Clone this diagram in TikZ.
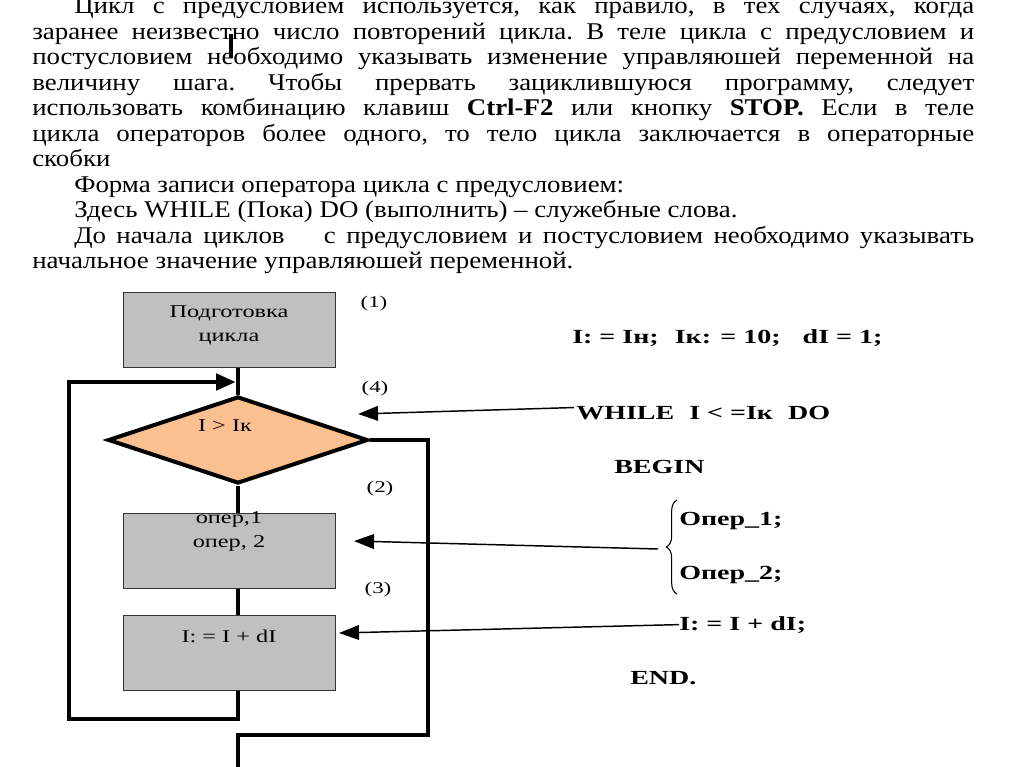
\documentclass[tikz,border=0pt]{standalone}
\usepackage{fontspec}
\setmainfont{Liberation Serif}
\newfontfamily\bodyf[FakeStretch=1.12]{Liberation Serif}
\newfontfamily\flowf[FakeStretch=1.35]{Liberation Serif}
\newfontfamily\widef[FakeStretch=1.4]{Liberation Serif}
\usetikzlibrary{arrows.meta,shapes.geometric,decorations.pathreplacing}
\definecolor{boxgray}{RGB}{192,192,192}
\definecolor{peach}{RGB}{250,192,143}
\begin{document}
\begin{tikzpicture}[x=0.75pt,y=-0.75pt,
  procbox/.style={draw=black!80, line width=0.9pt, fill=boxgray, minimum width=159pt, minimum height=56.25pt, inner sep=0pt, anchor=north west},
  decbox/.style={shape=diamond, draw=black, line width=3pt, fill=peach, minimum width=195pt, minimum height=65.25pt, aspect=3, inner sep=0pt},
  flowtext/.style={font=\flowf\fontsize{13.5pt}{18pt}\selectfont, align=center, inner sep=0pt},
  numlabel/.style={font=\widef\fontsize{12.3pt}{14pt}\selectfont, inner sep=0pt},
  code/.style={font=\widef\fontsize{15pt}{17pt}\selectfont\bfseries, inner sep=0pt, anchor=base west},
  flow/.style={line width=3.6pt, line join=miter},
  ptr/.style={line width=1.1pt, -{Triangle[length=15pt,width=11pt]}},
]
\useasboundingbox (0,0) rectangle (1024,767);

% body text
\node[anchor=base west, inner sep=0pt, font=\bodyf\fontsize{18pt}{19.1pt}\selectfont] (para) at (32,14) {\parbox[t]{706.5pt}{\frenchspacing\setlength{\parindent}{31.5pt}\setlength{\emergencystretch}{4em}\tolerance=9999
\indent Цикл с предусловием используется, как правило, в тех случаях, когда\linebreak
заранее неизвестно число повторений цикла. В теле цикла с предусловием и\linebreak
постусловием необходимо указывать изменение управляюшей переменной на\linebreak
величину шага. Чтобы прервать зациклившуюся программу, следует\linebreak
использовать комбинацию клавиш \textbf{Ctrl-F2} или кнопку \textbf{STOP.} Если в теле\linebreak
цикла операторов более одного, то тело цикла заключается в операторные\linebreak
скобки\par
\indent Форма записи оператора цикла с предусловием:\par
\indent Здесь WHILE (Пока) DO (выполнить) – служебные слова.\par
\indent До начала циклов\hspace{1.2em} с предусловием и постусловием необходимо указывать\linebreak
начальное значение управляюшей переменной.}};

% stray text cursor mark
\coordinate (curA) at (231,34);
\coordinate (curB) at (231,58);
\draw[line width=3.2pt] (curA) -- (curB);

% flowchart
\node[procbox] (box1) at (123,292) {};
\node[flowtext] (t1) at (229,325) {Подготовка\\цикла};
\node[decbox] (dia) at (238,440) {};
\node[flowtext] (t2) at (225,426) {I > Iк};
\node[procbox] (box2) at (123,513) {};
\node[flowtext] (t3) at (229,531) {опер,1\\опер, 2};
\node[procbox] (box3) at (123,615) {};
\node[flowtext] (t4) at (229,636) {I: = I + dI};

\node[numlabel] (n1) at (374,304) {(1)};
\node[numlabel] (n4) at (375,389) {(4)};
\node[numlabel] (n2) at (380,489) {(2)};
\node[numlabel] (n3) at (378,590) {(3)};

\draw[flow] (box1.south -| dia.north) -- (dia.north);
\draw[flow] (dia.south) -- (box2.north -| dia.south);
\draw[flow] (box2.south -| dia.south) -- (box3.north -| dia.south);

\coordinate (loopBL) at (69,719);
\coordinate (loopIn) at (236,382);
\draw[flow, -{Triangle[length=15pt,width=12pt]}] (box3.south -| dia.south) |- (loopBL) |- (loopIn);

\coordinate (exR) at (428,735);
\coordinate (exEnd) at (238,772);
\draw[flow] (dia.east) -| (exR) -| (exEnd);

% code
\node[code] (c0) at (572,343) {I: = Iн;\hspace{0.8em}Iк: = 10;\hspace{1.1em}dI = 1;};
\node[code] (c1) at (576,419) {WHILE\hspace{0.4em} I < =Iк\hspace{0.4em} DO};
\node[code] (c2) at (614,473) {BEGIN};
\node[code] (c3) at (679,525) {Опер\_1;};
\node[code] (c4) at (679,579) {Опер\_2;};
\node[code] (c5) at (679,630) {I: = I + dI;};
\node[code] (c6) at (630,684) {END.};

\draw[line width=0.8pt, decorate, decoration={brace, amplitude=8pt}] (677,594) -- (677,500);
\coordinate (btip) at (658,549);

\coordinate (tA) at (358,414);
\coordinate (tB) at (354,541);
\coordinate (tC) at (339,633);
\draw[ptr] (c1.west) ++(-2,-5) coordinate (sA) -- (tA);
\draw[ptr] (btip) -- (tB);
\draw[ptr] (c5.west) -- (tC);
\end{tikzpicture}
\end{document}
